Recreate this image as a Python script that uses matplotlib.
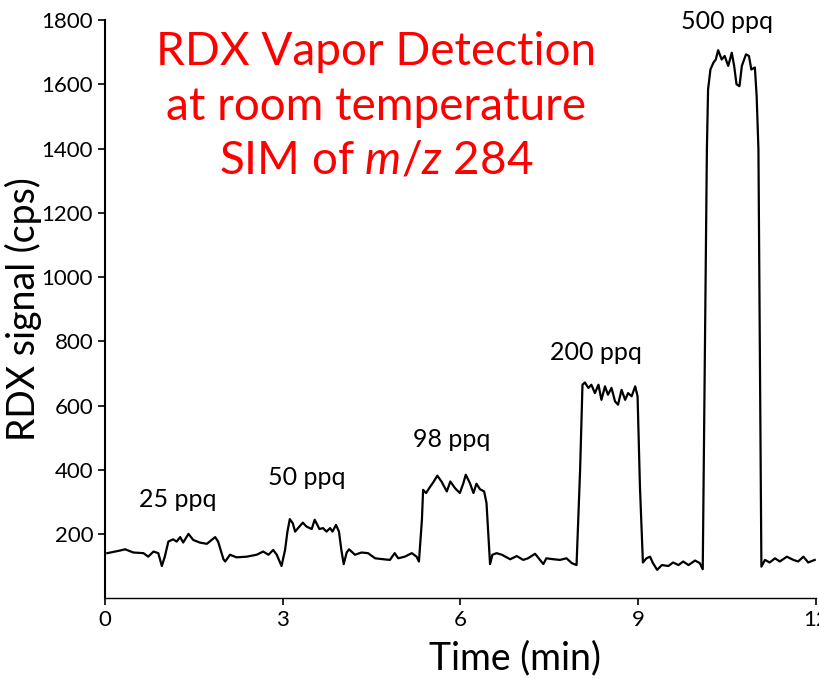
import matplotlib as mpl
mpl.use('Agg')

import matplotlib.pyplot as plt

plt.rcParams['font.family'] = ['Lato', 'DejaVu Sans']
plt.rcParams['mathtext.fontset'] = 'custom'
plt.rcParams['mathtext.rm'] = 'Lato'
plt.rcParams['mathtext.it'] = 'Lato:italic'

# SIM trace of m/z 284
TIME = [
    0.04, 0.25, 0.34, 0.48, 0.65, 0.73, 0.82, 0.90, 0.96, 1.01,
    1.07, 1.15, 1.21, 1.27, 1.32, 1.41, 1.49, 1.60, 1.72, 1.86,
    1.91, 2.00, 2.03, 2.11, 2.22, 2.39, 2.56, 2.67, 2.76, 2.84,
    2.90, 2.98, 3.04, 3.08, 3.12, 3.17, 3.21, 3.26, 3.34, 3.40,
    3.49, 3.54, 3.62, 3.68, 3.74, 3.80, 3.84, 3.90, 3.95, 3.99,
    4.03, 4.08, 4.12, 4.22, 4.33, 4.44, 4.56, 4.70, 4.81, 4.89,
    4.95, 5.06, 5.18, 5.26, 5.30, 5.35, 5.37, 5.42, 5.49, 5.54,
    5.61, 5.68, 5.77, 5.83, 5.91, 5.99, 6.05, 6.09, 6.16, 6.22,
    6.27, 6.33, 6.40, 6.44, 6.50, 6.54, 6.61, 6.70, 6.84, 6.95,
    7.06, 7.14, 7.26, 7.40, 7.45, 7.57, 7.68, 7.79, 7.88, 7.96,
    8.02, 8.06, 8.10, 8.16, 8.21, 8.27, 8.33, 8.38, 8.44, 8.49,
    8.55, 8.61, 8.66, 8.72, 8.78, 8.83, 8.89, 8.95, 8.99, 9.03,
    9.08, 9.14, 9.20, 9.25, 9.32, 9.40, 9.51, 9.59, 9.68, 9.76,
    9.85, 9.96, 10.04, 10.09, 10.16, 10.18, 10.22, 10.27, 10.31, 10.35,
    10.41, 10.46, 10.52, 10.58, 10.62, 10.66, 10.71, 10.75, 10.82, 10.87,
    10.91, 10.97, 11.00, 11.03, 11.08, 11.14, 11.22, 11.31, 11.39, 11.51,
    11.62, 11.70, 11.79, 11.87, 11.98,
]
SIGNAL = [
    141, 149, 153, 143, 141, 130, 146, 141, 101, 130,
    177, 184, 177, 191, 174, 201, 182, 174, 170, 191,
    177, 122, 115, 136, 128, 130, 136, 146, 136, 151,
    136, 101, 151, 208, 247, 234, 208, 219, 236, 224,
    216, 245, 216, 219, 208, 219, 208, 229, 208, 151,
    107, 143, 153, 136, 143, 141, 125, 122, 120, 141,
    125, 130, 141, 130, 115, 245, 338, 328, 348, 361,
    382, 364, 333, 364, 343, 328, 359, 385, 359, 328,
    357, 340, 333, 297, 107, 136, 141, 136, 122, 132,
    120, 125, 139, 107, 125, 122, 120, 125, 110, 104,
    400, 665, 672, 655, 665, 639, 665, 618, 660, 634,
    655, 613, 603, 649, 618, 639, 629, 660, 629, 348,
    112, 125, 130, 110, 89, 104, 101, 112, 104, 115,
    104, 118, 110, 91, 1397, 1584, 1646, 1667, 1677, 1706,
    1677, 1688, 1657, 1698, 1657, 1600, 1594, 1657, 1693, 1688,
    1646, 1652, 1563, 1397, 99, 120, 112, 125, 115, 130,
    120, 115, 130, 112, 120,
]

CONC_LABELS = ['25 ppq', '50 ppq', '98 ppq', '200 ppq', '500 ppq']
LABEL_T = [1.23, 3.41, 5.86, 8.29, 10.50]
LABEL_V = [307, 375, 494, 765, 1796]

XTICKS = [0, 3, 6, 9, 12]
YTICKS = [200, 400, 600, 800, 1000, 1200, 1400, 1600, 1800]

fig = plt.figure(figsize=(8.2, 6.79), dpi=100)
ax = fig.add_axes([0.128, 0.1186, 0.867, 0.852])

ax.plot(TIME, SIGNAL, color='black', lw=1.6)

for lab, t, v in zip(CONC_LABELS, LABEL_T, LABEL_V):
    ax.text(t, v, lab, ha='center', va='center', fontsize=18)

ax.set_xlim(0, 12)
ax.set_ylim(0, 1800)
ax.set_xticks(XTICKS)
ax.set_yticks(YTICKS)
ax.tick_params(labelsize=16, length=5, width=1.2, direction='out')
for s in ['top', 'right']:
    ax.spines[s].set_visible(False)
ax.spines['left'].set_linewidth(1.5)
ax.spines['bottom'].set_linewidth(1.0)

ax.set_xlabel('Time (min)', fontsize=27, va='center')
ax.xaxis.set_label_coords(0.577, -0.104)
ax.set_ylabel('RDX signal (cps)', fontsize=27, labelpad=0)

fig.text(0.459, 0.924, 'RDX Vapor Detection', color='red', fontsize=33,
         ha='center', va='center')
fig.text(0.459, 0.842, 'at room temperature', color='red', fontsize=33,
         ha='center', va='center')
fig.text(0.459, 0.764, r'SIM of $\mathit{m/z}$ 284', color='red', fontsize=33,
         ha='center', va='center')

fig.savefig('out.png', dpi=100)
